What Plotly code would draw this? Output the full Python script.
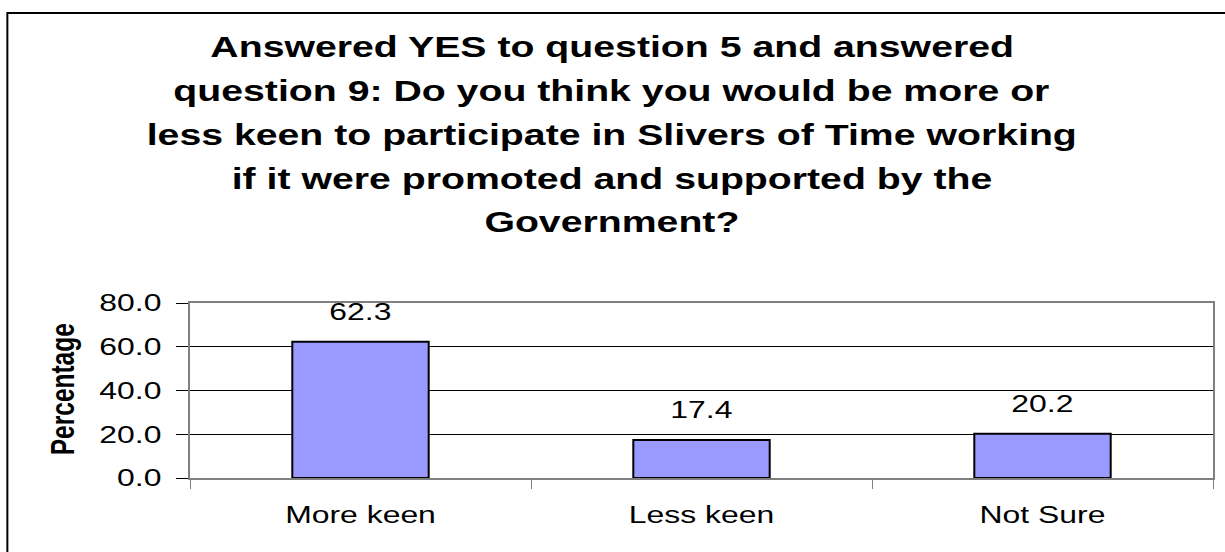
import plotly.graph_objects as go

# Survey responses (percent of respondents)
categories = ["More keen", "Less keen", "Not Sure"]
percentages = [62.3, 17.4, 20.2]
y_tick_values = [0, 20, 40, 60, 80]
y_tick_labels = ["0.0", "20.0", "40.0", "60.0", "80.0"]
title_lines = [
    "Answered YES to question 5 and answered",
    "question 9: Do you think you would be more or",
    "less keen to participate in Slivers of Time working",
    "if it were promoted and supported by the",
    "Government?",
]

FIG_W, FIG_H = 1225, 552
M_L, M_R, M_T, M_B = 190, 10, 303, 74
PLOT_W = FIG_W - M_L - M_R
PLOT_H = FIG_H - M_T - M_B

FONT = "Liberation Sans, Arial, sans-serif"
TEXT_STRETCH = 1.33  # horizontal widening applied to every text glyph


def paper_x(px):
    return (px - M_L) / PLOT_W


def paper_y(py):
    return (FIG_H - M_B - py) / PLOT_H


fig = go.Figure(
    go.Bar(
        x=categories,
        y=percentages,
        marker=dict(color="#9999FF", line=dict(color="#000000", width=2)),
        hoverinfo="skip",
    )
)

# value labels above each bar
for cat, val in zip(categories, percentages):
    fig.add_annotation(
        x=cat, y=val, xref="x", yref="y",
        text=f"{val:.1f}",
        showarrow=False, yanchor="middle", yshift=30,
        font=dict(family=FONT, size=24, color="#000000"),
    )

# multi-line bold title
title_centers = [46.5, 90.5, 134.5, 178, 221.5]
for line, cy in zip(title_lines, title_centers):
    fig.add_annotation(
        x=paper_x(612.5), y=paper_y(cy), xref="paper", yref="paper",
        text=f"<b>{line}</b>",
        showarrow=False, xanchor="center", yanchor="middle",
        font=dict(family=FONT, size=29.5, color="#000000"),
    )

# y-axis title
fig.add_annotation(
    x=paper_x(62), y=paper_y(389), xref="paper", yref="paper",
    text="<b>Percentage</b>", textangle=-90,
    showarrow=False, xanchor="center", yanchor="middle",
    font=dict(family=FONT, size=24.5, color="#000000"),
)

# outer chart frame
fig.add_shape(
    type="rect", xref="paper", yref="paper",
    x0=paper_x(7), x1=paper_x(1240), y0=paper_y(570), y1=paper_y(13),
    line=dict(color="#000000", width=2), fillcolor="rgba(0,0,0,0)", layer="above",
)

fig.update_layout(
    width=FIG_W, height=FIG_H,
    margin=dict(l=M_L, r=M_R, t=M_T, b=M_B, pad=0),
    paper_bgcolor="#FFFFFF", plot_bgcolor="#FFFFFF",
    bargap=0.6, showlegend=False,
    font=dict(family=FONT, color="#000000"),
)

fig.update_xaxes(
    showgrid=False, showline=True, linecolor="#808080", linewidth=1.5, mirror=True,
    ticks="outside", tickson="boundaries", ticklen=9, tickcolor="#808080", tickwidth=1,
    tickfont=dict(family=FONT, size=24, color="#000000"),
    ticklabelstandoff=14,
)

fig.update_yaxes(
    range=[0, 80], tickvals=y_tick_values, ticktext=y_tick_labels,
    showgrid=True, gridcolor="#000000", gridwidth=1, zeroline=False,
    showline=True, linecolor="#808080", linewidth=1.5, mirror=True,
    ticks="outside", ticklen=12, tickcolor="#000000", tickwidth=1,
    tickfont=dict(family=FONT, size=24, color="#000000"),
    ticklabelstandoff=10,
)

# Widen the glyphs of every text element about its anchor point; rotated
# text is widened across its baseline so it thickens on screen horizontally.
stretch_js = """
var gd = document.getElementById('{plot_id}');
var S = %s;
function isRotated(el) {
  while (el && el.tagName && el.tagName.toLowerCase() !== 'svg') {
    var tr = el.getAttribute && el.getAttribute('transform');
    if (tr && tr.indexOf('rotate') !== -1 && !/rotate\\(\\s*0[\\s,)]/.test(tr)) return true;
    el = el.parentNode;
  }
  return false;
}
gd.querySelectorAll('text').forEach(function (t) {
  try {
    var b = t.getBBox();
    if (!b.width) return;
    var anchor = t.getAttribute('text-anchor') || 'start';
    var cx = anchor === 'end' ? b.x + b.width : (anchor === 'middle' ? b.x + b.width / 2 : b.x);
    var cy = b.y + b.height / 2;
    var old = t.getAttribute('transform') || '';
    var sc = isRotated(t) ? 'scale(1,' + S + ')' : 'scale(' + S + ',1)';
    t.setAttribute('transform', old + ' translate(' + cx + ',' + cy + ') ' + sc +
                   ' translate(' + (-cx) + ',' + (-cy) + ')');
  } catch (e) {}
});
""" % TEXT_STRETCH

fig.write_html("out.html", post_script=stretch_js)
